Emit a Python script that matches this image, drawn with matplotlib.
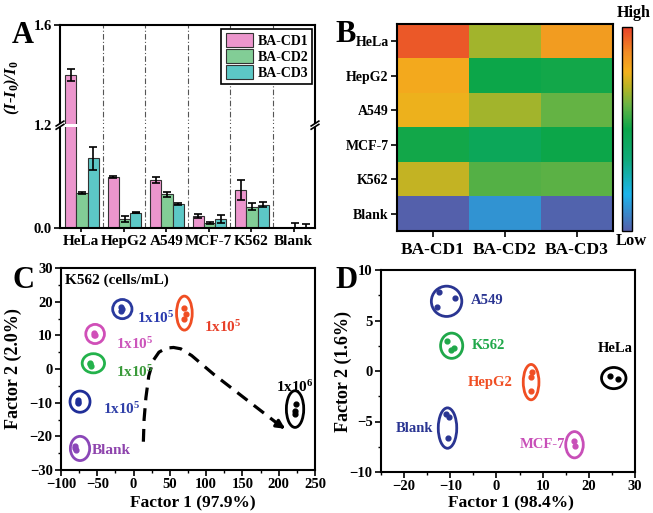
import numpy as np
import matplotlib
matplotlib.use("Agg")
import matplotlib.pyplot as plt
from matplotlib.patches import Ellipse, Rectangle
from matplotlib.colors import LinearSegmentedColormap
from matplotlib.ticker import MultipleLocator

plt.rcParams['font.family'] = ['Liberation Serif', 'DejaVu Serif']
plt.rcParams['font.weight'] = 'bold'
plt.rcParams['axes.labelweight'] = 'bold'
plt.rcParams['axes.linewidth'] = 1.5
plt.rcParams['mathtext.fontset'] = 'custom'
plt.rcParams['mathtext.rm'] = 'Liberation Serif:bold'
plt.rcParams['mathtext.it'] = 'Liberation Serif:italic:bold'
plt.rcParams['mathtext.bf'] = 'Liberation Serif:bold'
for a in ('xtick', 'ytick'):
    plt.rcParams[a + '.major.width'] = 1.2
    plt.rcParams[a + '.minor.width'] = 1.0
    plt.rcParams[a + '.major.size'] = 4
    plt.rcParams[a + '.minor.size'] = 2.5
    plt.rcParams[a + '.major.pad'] = 2
    plt.rcParams[a + '.labelsize'] = 10.5

# ---- data: panel A (bar chart, broken y axis) ----
cells = ["HeLa", "HepG2", "A549", "MCF-7", "K562", "Blank"]
probes = ["BA-CD1", "BA-CD2", "BA-CD3"]
cd1 = [1.40, 0.149, 0.139, 0.035, 0.110, 0.0]
cd2 = [0.103, 0.027, 0.098, 0.015, 0.062, 0.0]
cd3 = [0.203, 0.045, 0.069, 0.027, 0.068, 0.0]
cd1_err = [0.025, 0.002, 0.009, 0.006, 0.029, 0.0]
cd2_err = [0.003, 0.009, 0.007, 0.002, 0.010, 0.015]
cd3_err = [0.033, 0.002, 0.003, 0.012, 0.007, 0.012]
bar_colors = ["#EC96CD", "#82CD96", "#5CC8C6"]
low_top = 0.3   # top of lower segment
high_lo, high_hi = 1.2, 1.6

# ---- data: panel B (heatmap) ----
heat_rows = ["HeLa", "HepG2", "A549", "MCF-7", "K562", "Blank"]
heat_vals = np.array([
    [0.96, 0.68, 0.83],
    [0.80, 0.50, 0.51],
    [0.77, 0.68, 0.61],
    [0.51, 0.45, 0.50],
    [0.72, 0.59, 0.60],
    [0.00, 0.11, 0.01],
])
cmap_stops = [(0.00, "#5460AB"), (0.18, "#1CB4EC"), (0.35, "#10AA7A"),
              (0.50, "#0BA64A"), (0.62, "#6BB444"), (0.70, "#B2B426"),
              (0.78, "#F4B11C"), (0.88, "#F28A24"), (1.00, "#E8412A")]

# ---- data: panel C (K562 concentration PCA) ----
c_centers = [(-15.5, 17.8), (70, 16.6), (-53, 10.4), (-55.4, 1.7),
             (-73.8, -9.7), (-73.8, -23.6), (222.5, -11.9)]
c_sizes = [(26.6, 5.7), (21.6, 10.1), (25.7, 5.7), (30.8, 5.7),
           (27.6, 6.3), (26.6, 7.2), (23.9, 10.9)]
c_points = [
    [(-17, 18.4), (-17, 17.3), (-16, 17.8)],
    [(70, 18.0), (72, 16.2), (70, 15.0)],
    [(-54, 10.6), (-53, 10.0), (-54, 10.2)],
    [(-60, 1.8), (-59, 1.0), (-60, 1.4)],
    [(-77, -9.2), (-76, -10.2), (-77, -9.8)],
    [(-81, -23.0), (-80, -24.0), (-81, -23.6)],
    [(224, -10.5), (223, -12.6), (223, -13.3)],
]
c_colors = ["#2A3A9E", "#F04E23", "#D04FB8", "#23B24B", "#1F2E98", "#8B47B8", "#000000"]
c_labels = ["1x10$^5$", "1x10$^5$", "1x10$^5$", "1x10$^5$", "1x10$^5$", "Blank", "1x10$^6$"]
c_label_pos = [(5, 15), (97, 12.5), (-24, 7.5), (-24, -0.8), (-42, -11.8), (-58, -24.2), (196, -5.5)]
c_label_colors = ["#2A3AAE", "#E8412A", "#CC55BB", "#3A9A3A", "#3040A8", "#8E44AD", "#000000"]
c_path = [(13.5, -21.6), (14.5, -15), (17, -8.5), (21, -2), (27, 2.5), (35, 5),
          (45, 6.2), (55, 6.4), (65, 6.0), (80, 4.0), (110, -1.5), (140, -6.5),
          (170, -11.5), (200, -16.5)]
c_arrow_tip = (212, -18.2)

# ---- data: panel D (cell line PCA) ----
d_names = ["A549", "K562", "HepG2", "HeLa", "Blank", "MCF-7"]
d_centers = [(-10.8, 6.9), (-9.7, 2.5), (7.5, -1.1), (25.4, -0.7), (-10.6, -5.65), (16.9, -7.3)]
d_sizes = [(6.6, 3.0), (4.8, 2.5), (3.4, 3.5), (5.3, 2.1), (4.0, 4.0), (3.8, 2.6)]
d_points = [
    [(-12.4, 7.8), (-9.0, 7.2), (-12.9, 6.3)],
    [(-10.8, 3.0), (-9.9, 2.1), (-9.1, 2.3)],
    [(7.7, -0.1), (7.5, -0.6), (7.5, -2.0)],
    [(24.6, -0.5), (26.4, -0.8)],
    [(-10.9, -4.3), (-10.3, -4.6), (-10.6, -6.6)],
    [(16.8, -6.9), (16.9, -7.4)],
]
d_colors = ["#2A3592", "#20A84A", "#F04E23", "#000000", "#2A3592", "#C84FB8"]
d_label_pos = [(-5.6, 7.0), (-5.3, 2.5), (3.4, -1.1), (25.7, 2.2), (-13.6, -5.65), (14.9, -7.3)]
d_label_ha = ["left", "left", "right", "center", "right", "right"]

W, H = 653, 513
fig = plt.figure(figsize=(W / 100, H / 100), dpi=100)


def box(l, t, r, b):
    return [l / W, 1 - b / H, (r - l) / W, (b - t) / H]


# ================= A =================
axA = fig.add_axes(box(60, 25, 315, 228))
ratio = 308 / 300
xp = [0, low_top, high_lo, high_hi]
fp = [0, ratio, ratio + 1e-6, ratio + 1]
axA.set_yscale('function', functions=(lambda y: np.interp(y, xp, fp),
                                      lambda z: np.interp(z, fp, xp)))
x = np.arange(len(cells)) + 0.52
bw = 0.265
for k, (vals, errs) in enumerate([(cd1, cd1_err), (cd2, cd2_err), (cd3, cd3_err)]):
    axA.bar(x + (k - 1) * bw, vals, bw, yerr=errs, color=bar_colors[k],
            edgecolor="#333333", linewidth=0.8, label=probes[k], zorder=2,
            error_kw=dict(ecolor='k', elinewidth=1.2, capsize=3, capthick=1.2))
for k in range(1, len(cells)):
    axA.axvline(k, color="#555555", lw=0.8, ls=(0, (5, 2, 1, 2)), zorder=1)
axA.set_xlim(0, len(cells))
axA.set_ylim(0, high_hi)
axA.set_yticks([0, high_lo, high_hi])
axA.set_yticklabels(["0.0", "1.2", "1.6"])
axA.set_xticks(np.arange(len(cells)) + 0.5)
axA.set_xticklabels(cells, fontsize=11)
axA.tick_params(axis='x', length=3)
axA.set_ylabel("(I-I$_0$)/I$_0$", fontsize=12, style='italic')
axA.yaxis.set_label_coords(-0.148, 0.69)
axA.legend(loc='upper right', bbox_to_anchor=(0.99, 0.98), borderaxespad=0,
           fontsize=10, handlelength=2.0, handleheight=1.1, labelspacing=0.12,
           handletextpad=0.3, borderpad=0.3, fancybox=False, edgecolor='k',
           framealpha=1).get_frame().set_linewidth(1.2)
yb = ratio / (ratio + 1)
axA.add_patch(Rectangle((-0.03, yb - 0.007), 1.06, 0.014, transform=axA.transAxes,
                        fc='white', ec='none', zorder=5, clip_on=False))
for xs in (0, 1):
    for dy in (-0.008, 0.008):
        axA.plot([xs - 0.015, xs + 0.015], [yb + dy - 0.012, yb + dy + 0.012],
                 transform=axA.transAxes, color='k', lw=1.2, clip_on=False, zorder=6)

# ================= B =================
axB = fig.add_axes(box(397, 24, 613, 231))
cmap = LinearSegmentedColormap.from_list("hm", cmap_stops)
im = axB.imshow(heat_vals, cmap=cmap, vmin=0, vmax=1, aspect='auto')
axB.set_xticks(range(len(probes)))
axB.set_xticklabels(probes, fontsize=12.5)
axB.set_yticks(range(len(heat_rows)))
axB.set_yticklabels(heat_rows, fontsize=10)
axB.tick_params(length=4)
axB.tick_params(axis='x', pad=4)
cax = fig.add_axes(box(622, 27, 632, 231))
cb = fig.colorbar(im, cax=cax)
cb.set_ticks([])
cb.outline.set_linewidth(1.0)
fig.text(634 / W, 1 - 13 / H, "High", ha='center', va='center', fontsize=11.5)
fig.text(631 / W, 1 - 241 / H, "Low", ha='center', va='center', fontsize=12)

# ================= C =================
axC = fig.add_axes(box(61, 268, 315, 470))
for cen, sz, pts, col in zip(c_centers, c_sizes, c_points, c_colors):
    axC.add_patch(Ellipse(cen, sz[0], sz[1], fill=False, ec=col, lw=2))
    px, py = zip(*pts)
    axC.scatter(px, py, s=12, color=col, zorder=3)
for lab, pos, col in zip(c_labels, c_label_pos, c_label_colors):
    axC.text(pos[0], pos[1], lab, color=col, fontsize=11, ha='left', va='center')
cx, cy = zip(*c_path)
axC.plot(cx, cy, color='k', lw=2.3, ls=(0, (4, 2.5)))
axC.annotate('', xy=c_arrow_tip, xytext=c_path[-1],
             arrowprops=dict(arrowstyle='-|>', color='k', lw=2.3, mutation_scale=12))
axC.text(-94, 26.5, "K562 (cells/mL)", fontsize=11, ha='left', va='center')
axC.set_xlim(-100, 250)
axC.set_ylim(-30, 30)
axC.xaxis.set_major_locator(MultipleLocator(50))
axC.xaxis.set_minor_locator(MultipleLocator(25))
axC.yaxis.set_major_locator(MultipleLocator(10))
axC.yaxis.set_minor_locator(MultipleLocator(5))
axC.set_xlabel("Factor 1 (97.9%)", fontsize=12.5)
axC.set_ylabel("Factor 2 (2.0%)", fontsize=13)
axC.xaxis.set_label_coords(0.52, -0.128)
axC.yaxis.set_label_coords(-0.155, 0.5)

# ================= D =================
axD = fig.add_axes(box(381, 270, 635, 472))
for cen, sz, pts, col in zip(d_centers, d_sizes, d_points, d_colors):
    axD.add_patch(Ellipse(cen, sz[0], sz[1], fill=False, ec=col, lw=2))
    px, py = zip(*pts)
    axD.scatter(px, py, s=12, color=col, zorder=3)
for name, pos, col, ha in zip(d_names, d_label_pos, d_colors, d_label_ha):
    axD.text(pos[0], pos[1], name, color=col, fontsize=10.5, ha=ha, va='center')
axD.set_xlim(-25, 30)
axD.set_ylim(-10, 10)
axD.xaxis.set_major_locator(MultipleLocator(10))
axD.xaxis.set_minor_locator(MultipleLocator(5))
axD.yaxis.set_major_locator(MultipleLocator(5))
axD.yaxis.set_minor_locator(MultipleLocator(2.5))
axD.set_xlabel("Factor 1 (98.4%)", fontsize=12.5)
axD.set_ylabel("Factor 2 (1.6%)", fontsize=13)
axD.xaxis.set_label_coords(0.51, -0.118)
axD.yaxis.set_label_coords(-0.115, 0.5)

# panel letters
for lab, (px_, py_) in zip("ABCD", [(12, 43), (335, 42), (12, 288), (335, 288)]):
    fig.text(px_ / W, 1 - py_ / H, lab, fontsize=22, ha='left', va='baseline')

fig.savefig("out.png", dpi=100)
